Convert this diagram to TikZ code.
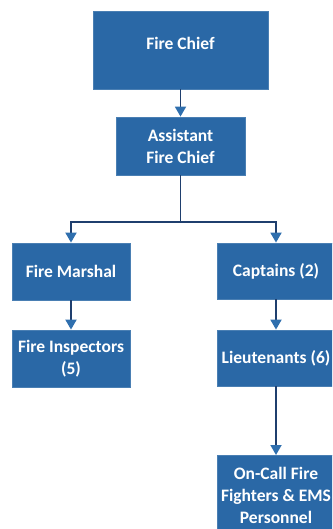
\documentclass[tikz,border=0pt]{standalone}
\usepackage{fontspec}
\setmainfont{Carlito}
\usetikzlibrary{arrows.meta}
\definecolor{boxblue}{HTML}{2A68A6}
\definecolor{linenavy}{HTML}{1F3F6E}
\definecolor{tipblue}{HTML}{2F6FAE}
\tikzset{
  boxtext/.style={text=white, font=\fontsize{17.5}{22}\selectfont\bfseries, align=center},
  orgbox/.style={boxtext, draw=boxblue!85!white, line width=0.8pt, fill=boxblue, inner sep=0pt},
  link/.style={draw=linenavy, line width=1.8pt,
    -{Triangle[width=11pt,length=10pt,fill=tipblue,color=tipblue]}}
}
\begin{document}
\begin{tikzpicture}[x=1pt,y=-1pt]
  \useasboundingbox (0,0) rectangle (332,529);
  \clip (0,0) rectangle (332,529);
  % top box: its title sits a little above the middle
  \node[orgbox, minimum width=175pt, minimum height=78pt] (chief) at (180.5,50) {};
  \node[boxtext] (chieftitle) at ([yshift=7pt]chief.center) {Fire Chief};
  \node[orgbox, minimum width=129pt, minimum height=58pt] (asst) at (180.5,146) {Assistant\\Fire Chief};
  \node[orgbox, minimum width=118pt, minimum height=57pt] (marshal) at (71,271.5) {Fire Marshal};
  \node[orgbox, minimum width=118pt, minimum height=56pt] (capt) at (276,271) {Captains (2)};
  \node[orgbox, minimum width=118pt, minimum height=57pt] (insp) at (71,358.5) {Fire Inspectors\\(5)};
  \node[orgbox, minimum width=118pt, minimum height=56pt] (lieut) at (276,358) {Lieutenants (6)};
  \node[orgbox, minimum width=118pt, minimum height=80pt, anchor=north] (oncall) at (276,455)
    {On-Call Fire\\Fighters \& EMS\\Personnel};
  \coordinate (split) at (180.5,222);
  \draw[link] (chief) -- (asst);
  \draw[link] (asst.south) -- (split) -| (marshal.north);
  \draw[link] (split) -| (capt.north);
  \draw[link] (marshal) -- (insp);
  \draw[link] (capt) -- (lieut);
  \draw[link] (lieut) -- (oncall);
\end{tikzpicture}
\end{document}
